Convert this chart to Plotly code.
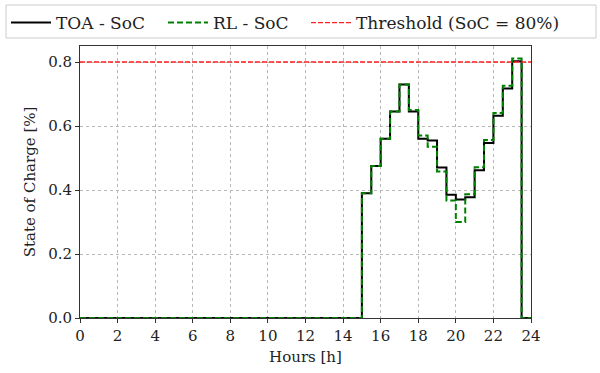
import numpy as np
import plotly.graph_objects as go

# Half-hour time grid over one day
hours = np.arange(0, 24.5, 0.5)

# State of charge per half-hour interval (value holds from t to t+0.5)
toa_soc = [0.0] * 30 + [
    0.390, 0.475, 0.560, 0.645, 0.730, 0.645, 0.560, 0.555, 0.470,
    0.385, 0.370, 0.377, 0.462, 0.547, 0.632, 0.717, 0.802,
] + [0.0, 0.0]
rl_soc = [0.0] * 30 + [
    0.390, 0.475, 0.560, 0.645, 0.730, 0.650, 0.570, 0.535, 0.458,
    0.367, 0.300, 0.387, 0.471, 0.556, 0.641, 0.726, 0.811,
] + [0.0, 0.0]
threshold = 0.8

x_ticks = list(range(0, 25, 2))
y_ticks = [0.0, 0.2, 0.4, 0.6, 0.8]

serif = "DejaVu Serif"
text_color = "#222222"
W, H = 600, 373

fig = go.Figure()
fig.add_trace(go.Scatter(
    x=hours, y=toa_soc, mode="lines", line_shape="hv",
    line=dict(color="black", width=2), name="TOA - SoC", legend="legend",
))
fig.add_trace(go.Scatter(
    x=hours, y=rl_soc, mode="lines", line_shape="hv",
    line=dict(color="green", width=2, dash="6px,3px"), name="RL - SoC",
    legend="legend2",
))
fig.add_trace(go.Scatter(
    x=[0, 24], y=[threshold, threshold], mode="lines",
    line=dict(color="#ff2020", width=1.3, dash="5px,2px"),
    name="Threshold (SoC = 80%)", legend="legend3",
))

label_font = dict(family=serif, size=15, color=text_color)
legend_font = dict(family=serif, size=17, color=text_color)
axis_common = dict(
    showline=True, linecolor="#333333", linewidth=1, mirror=True,
    ticks="outside", ticklen=4, tickcolor="#333333",
    showgrid=True, gridcolor="#b8b8b8", griddash="dot", gridwidth=1,
    zeroline=False, tickfont=label_font,
)

fig.update_xaxes(
    range=[0, 24], tickvals=x_ticks,
    title=dict(text="Hours [h]", font=label_font, standoff=7),
    **axis_common,
)
fig.update_yaxes(
    range=[0, 0.85], tickvals=y_ticks, tickformat=".1f",
    title=dict(text="State of Charge [%]", font=label_font, standoff=8),
    **axis_common,
)


def legend_at(px_left):
    return dict(
        orientation="h", xref="container", yref="container",
        x=px_left / W, xanchor="left", y=1 - 5 / H, yanchor="top",
        bgcolor="rgba(0,0,0,0)", borderwidth=0,
        font=legend_font, itemwidth=40,
    )


# Single framed legend row spanning the top of the figure
fig.add_shape(
    type="rect", xref="paper", yref="paper",
    x0=(6 - 80) / 451, x1=(596 - 80) / 451,
    y0=(318 - 38) / 272, y1=(318 - 5) / 272,
    line=dict(color="#cccccc", width=1), fillcolor="white", layer="below",
)

fig.update_layout(
    width=W, height=H,
    margin=dict(l=80, r=69, t=46, b=55, autoexpand=False),
    paper_bgcolor="white", plot_bgcolor="white",
    font=dict(family=serif, color=text_color),
    showlegend=True,
    legend=legend_at(6),
    legend2=legend_at(163),
    legend3=legend_at(306),
)

fig.write_html("out.html")
